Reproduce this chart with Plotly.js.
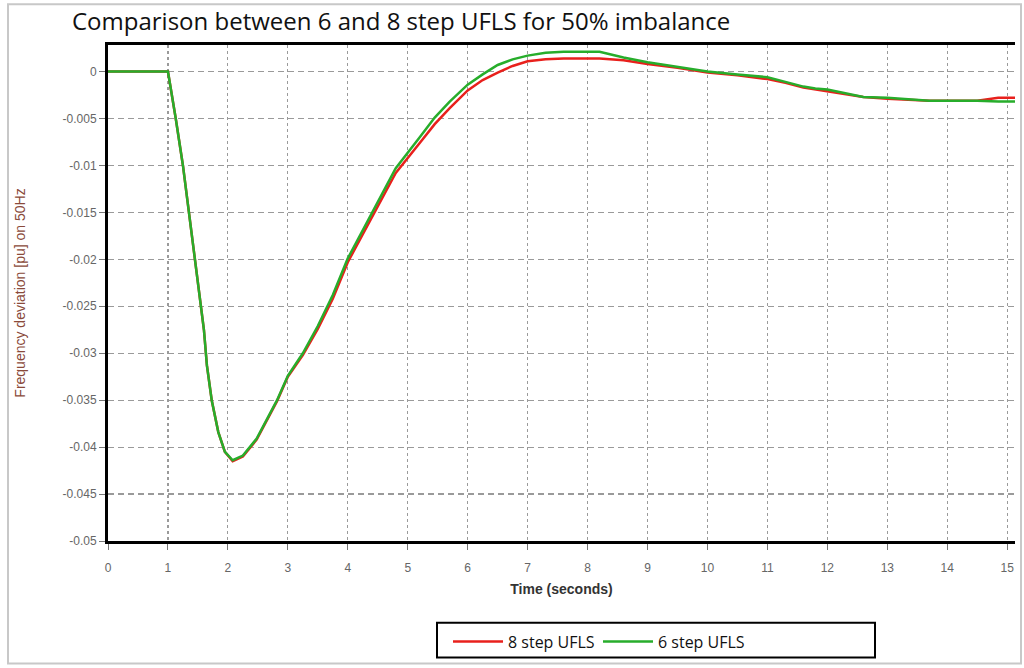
<!DOCTYPE html>
<html>
<head>
<meta charset="utf-8">
<script src="https://cdn.plot.ly/plotly-3.0.1.min.js"></script>
<style>html,body{margin:0;padding:0;background:#fff;}#chart{width:1024px;height:668px;}</style>
</head>
<body>
<div id="chart"></div>
<script>
var timeSec = [0, 1.0, 1.13, 1.25, 1.35, 1.45, 1.53, 1.6, 1.65, 1.73, 1.84, 1.95, 2.08, 2.25, 2.48, 2.82, 3.0, 3.25, 3.5, 3.75, 4.0, 4.25, 4.5, 4.8, 5.2, 5.45, 5.7, 6.0, 6.25, 6.5, 6.75, 7.0, 7.3, 7.6, 8.2, 8.6, 9.0, 9.5, 10.0, 10.5, 11.0, 11.3, 11.6, 11.8, 12.0, 12.3, 12.6, 13.0, 13.3, 13.7, 14.0, 14.5, 14.85, 15.13];
var step8 = [0, 0, -0.005, -0.01, -0.015, -0.02, -0.0245, -0.0275, -0.0313, -0.035, -0.0384, -0.0405, -0.0415, -0.041, -0.0392, -0.0351, -0.0325, -0.0302, -0.0274, -0.0242, -0.0203, -0.0173, -0.0143, -0.0108, -0.0076, -0.0056, -0.0039, -0.002, -0.0009, -0.0001, 0.0006, 0.0011, 0.0013, 0.0014, 0.0014, 0.0012, 0.0008, 0.0004, -0.0001, -0.0004, -0.0008, -0.0012, -0.0017, -0.0019, -0.0021, -0.0024, -0.0027, -0.0029, -0.003, -0.0031, -0.0031, -0.0031, -0.0028, -0.0028];
var step6 = [0, 0, -0.005, -0.01, -0.015, -0.02, -0.0245, -0.0275, -0.0313, -0.035, -0.0384, -0.0405, -0.0414, -0.0409, -0.0391, -0.035, -0.0324, -0.03, -0.0271, -0.0238, -0.0199, -0.0169, -0.0138, -0.0103, -0.007, -0.0049, -0.0032, -0.0014, -0.0003, 0.0007, 0.0013, 0.0017, 0.002, 0.0021, 0.0021, 0.0015, 0.001, 0.0005, 0.0, -0.0003, -0.0006, -0.0011, -0.0016, -0.0018, -0.0019, -0.0023, -0.0027, -0.0028, -0.0029, -0.0031, -0.0031, -0.0031, -0.0032, -0.0032];
var seriesNames = ['8 step UFLS', '6 step UFLS'];
var xTickVals = [0,1,2,3,4,5,6,7,8,9,10,11,12,13,14,15];
var xTickText = ['0','1','2','3','4','5','6','7','8','9','10','11','12','13','14','15'];
var yTickVals = [0,-0.005,-0.01,-0.015,-0.02,-0.025,-0.03,-0.035,-0.04,-0.045,-0.05];
var yTickText = ['0','-0.005','-0.01','-0.015','-0.02','-0.025','-0.03','-0.035','-0.04','-0.045','-0.05'];
var chartTitle = 'Comparison between 6 and 8 step UFLS for 50% imbalance';
var xTitle = 'Time (seconds)';
var yTitle = 'Frequency deviation [pu] on 50Hz';

var traces = [
  {x: timeSec, y: step8, name: seriesNames[0], type: 'scatter', mode: 'lines',
   line: {color: '#e8201c', width: 2.5}},
  {x: timeSec, y: step6, name: seriesNames[1], type: 'scatter', mode: 'lines',
   line: {color: '#27ad2b', width: 2.5}}
];

var layout = {
  width: 1024, height: 668,
  paper_bgcolor: '#ffffff', plot_bgcolor: '#ffffff',
  margin: {l: 108, r: 9, t: 45, b: 125, pad: 0},
  title: {text: chartTitle, x: 72/1024, xanchor: 'left', xref: 'container',
          y: 1 - 22/668, yanchor: 'middle', yref: 'container',
          font: {family: 'Open Sans, sans-serif', size: 24, color: '#111111'}},
  xaxis: {
    range: [0, 15.13], tickvals: xTickVals, ticktext: xTickText,
    showline: true, linecolor: '#000000', linewidth: 3, mirror: true,
    showgrid: true, gridcolor: '#9a9a9a', gridwidth: 1.2, griddash: '3px,3px',
    ticks: 'outside', ticklen: 6, tickcolor: '#777777', tickwidth: 1,
    ticklabelstandoff: 8,
    tickfont: {family: 'Liberation Sans, Arial, sans-serif', size: 12, color: '#666666'},
    zeroline: false,
    title: {text: '<b>' + xTitle + '</b>', standoff: 10,
            font: {family: 'Liberation Sans, Arial, sans-serif', size: 14, color: '#333333'}}
  },
  yaxis: {
    range: [-0.05, 0.00283], tickvals: yTickVals, ticktext: yTickText,
    showline: true, linecolor: '#000000', linewidth: 3, mirror: false,
    showgrid: true, gridcolor: '#9a9a9a', gridwidth: 1.2, griddash: '6px,4px',
    ticks: 'outside', ticklen: 6, tickcolor: '#777777', tickwidth: 1,
    tickfont: {family: 'Liberation Sans, Arial, sans-serif', size: 12, color: '#666666'},
    zeroline: false,
    title: {text: yTitle, standoff: 34,
            font: {family: 'Liberation Sans, Arial, sans-serif', size: 14, color: '#8a4a3a'}}
  },
  showlegend: true,
  legend: {
    orientation: 'h', x: (448-108)/907, xanchor: 'left', y: (543-627)/498, yanchor: 'top',
    borderwidth: 0, bgcolor: 'rgba(0,0,0,0)',
    font: {family: 'Open Sans, sans-serif', size: 16, color: '#111111'},
    entrywidth: 85, entrywidthmode: 'pixels', itemwidth: 50,
    traceorder: 'normal'
  },
  shapes: [
    {type: 'rect', xref: 'paper', yref: 'paper',
     x0: (8-108)/907, x1: (1021-108)/907, y0: (543-666)/498, y1: (543-4)/498,
     line: {color: '#c8c8c8', width: 2}, fillcolor: 'rgba(0,0,0,0)', layer: 'below'},
    {type: 'rect', xref: 'paper', yref: 'paper',
     x0: (437-108)/907, x1: (875-108)/907, y0: (543-660)/498, y1: (543-625)/498,
     line: {color: '#000000', width: 2}, fillcolor: 'rgba(0,0,0,0)', layer: 'above'}
  ]
};

Plotly.newPlot('chart', traces, layout, {displayModeBar: false, staticPlot: true});
</script>
</body>
</html>
